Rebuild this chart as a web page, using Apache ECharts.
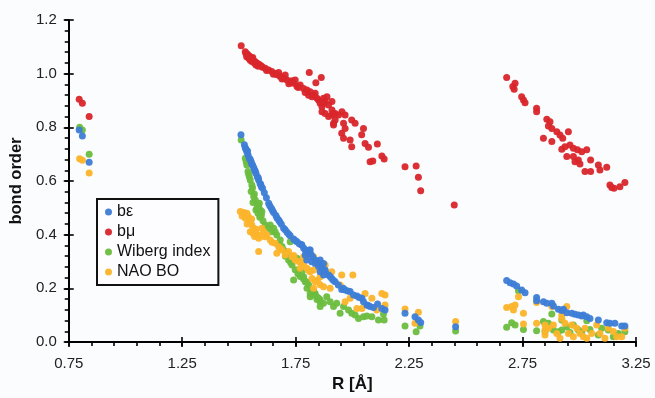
<!DOCTYPE html>
<html>
<head>
<meta charset="utf-8">
<script src="https://cdn.jsdelivr.net/npm/echarts@6/dist/echarts.min.js"></script>
<style>html,body{margin:0;padding:0;background:#fbfcfe;}#c{width:655px;height:398px;}</style>
</head>
<body>
<div id="c"></div>
<script>
const seriesNames = ['bε', 'bμ', 'Wiberg index', 'NAO BO'];
const xTicks = [0.75, 1.25, 1.75, 2.25, 2.75, 3.25];
const yTicks = [0.0, 0.2, 0.4, 0.6, 0.8, 1.0, 1.2];

const bEps = [
[0.796,0.79],[0.81,0.768],[0.84,0.67],
[1.509,0.772],[1.528,0.724],[1.535,0.709],[1.540,0.697],[1.546,0.685],[1.554,0.672],[1.560,0.660],[1.569,0.641],[1.575,0.629],[1.581,0.616],[1.587,0.604],[1.593,0.591],[1.599,0.579],[1.604,0.573],[1.621,0.538],[1.631,0.517],[1.643,0.498],[1.653,0.483],[1.663,0.471],[1.675,0.455],[1.687,0.439],[1.697,0.424],[1.712,0.409],[1.726,0.396],[1.741,0.384],[1.756,0.374],[1.775,0.362],[1.792,0.343],[1.807,0.331],[1.814,0.343],[1.825,0.318],[1.836,0.306],[1.851,0.293],[1.866,0.281],[1.858,0.262],[1.873,0.250],[1.531,0.718],[1.550,0.680],[1.565,0.650],
[1.524,0.735],[1.538,0.712],[1.556,0.664],[1.572,0.636],[1.585,0.612],[1.596,0.588],[1.612,0.556],[1.636,0.508],[1.648,0.490],[1.668,0.462],[1.680,0.448],[1.704,0.418],[1.720,0.402],[1.748,0.378],[1.766,0.366],[1.785,0.350],[1.800,0.338],[1.818,0.326],[1.843,0.300],[1.880,0.268],
[1.777,0.362],[1.792,0.324],[1.799,0.306],[1.811,0.343],[1.821,0.299],[1.836,0.293],[1.851,0.281],[1.865,0.275],[1.880,0.262],[1.895,0.250],[1.909,0.237],[1.924,0.225],[1.858,0.306],[1.873,0.293],[1.953,0.196],[1.968,0.194],[1.990,0.188],[2.005,0.175],[2.020,0.171],[2.042,0.163],[2.049,0.150],[2.064,0.138],[2.078,0.132],[2.093,0.129],[2.111,0.142],[2.130,0.125],[2.144,0.119],[2.232,0.107],[2.276,0.094],[2.291,0.082],[2.301,0.073],[2.455,0.057],
[1.902,0.244],[1.916,0.230],[1.938,0.212],[1.960,0.200],[1.980,0.190],[2.030,0.166],[2.070,0.136],
[2.680,0.229],[2.695,0.221],[2.710,0.216],[2.724,0.209],[2.746,0.194],[2.761,0.184],[2.812,0.166],[2.812,0.154],[2.842,0.150],[2.857,0.144],[2.879,0.144],[2.886,0.134],[2.908,0.122],[2.923,0.117],[2.945,0.109],[2.967,0.107],[2.981,0.103],[2.996,0.101],[3.011,0.097],[3.033,0.094],[3.047,0.088],[3.084,0.082],[3.121,0.072],[3.135,0.070],[3.157,0.070],[3.187,0.060],[3.201,0.060],[2.930,0.122],[3.018,0.101]
];

const bMu = [
[0.796,0.905],[0.81,0.89],[0.84,0.84],
[1.510,1.104],[1.528,1.082],[1.537,1.073],[1.546,1.066],[1.554,1.058],[1.563,1.051],[1.572,1.044],[1.581,1.039],[1.590,1.034],[1.599,1.029],[1.543,1.057],[1.557,1.045],[1.575,1.032],[1.534,1.063],[1.616,1.020],[1.631,1.014],[1.645,1.008],[1.660,1.001],[1.675,1.004],[1.682,0.989],[1.697,0.983],[1.712,0.976],[1.726,0.970],[1.741,0.964],[1.704,0.995],[1.748,0.976],[1.756,0.952],[1.770,0.958],[1.785,0.945],[1.800,0.939],[1.814,0.933],[1.807,0.920],[1.822,0.914],[1.836,0.927],[1.844,0.908],[1.851,0.902],[1.858,0.890],[1.866,0.877],[1.873,0.908],[1.880,0.896],[1.888,0.914],[1.895,0.883],[1.910,0.896],[1.910,0.865],[1.866,0.858],[1.880,0.852],[1.895,0.840],[1.917,0.852],[1.924,0.827],[1.939,0.846],[1.954,0.858],[1.917,0.809],[1.810,1.004],[1.863,0.986],[1.839,0.966],
[1.531,1.075],[1.540,1.068],[1.550,1.050],[1.561,1.060],[1.568,1.040],[1.585,1.028],[1.604,1.024],[1.622,1.012],[1.652,0.998],[1.668,0.996],[1.690,0.980],[1.720,0.962],[1.734,0.974],[1.762,0.948],[1.792,0.930],[1.829,0.920],
[1.968,0.846],[1.997,0.827],[2.012,0.815],[1.961,0.815],[1.968,0.796],[1.953,0.778],[1.961,0.759],[1.990,0.753],[1.997,0.728],[2.049,0.796],[2.041,0.772],[2.056,0.740],[2.071,0.726],[2.110,0.738],[2.078,0.672],[2.090,0.675],[2.130,0.693],[2.140,0.682],[2.232,0.653],[2.281,0.656],[2.291,0.614],[2.301,0.564],[2.449,0.511],[1.917,0.815],[1.909,0.846],[1.873,0.890],[1.924,0.852],
[2.680,0.986],[2.707,0.952],[2.717,0.964],[2.713,0.942],[2.746,0.914],[2.754,0.902],[2.761,0.892],[2.812,0.871],[2.812,0.858],[2.857,0.830],[2.871,0.821],[2.864,0.805],[2.879,0.796],[2.901,0.784],[2.915,0.771],[2.927,0.759],[2.952,0.784],[2.842,0.759],[2.879,0.747],[2.923,0.718],[2.937,0.728],[2.959,0.734],[2.974,0.722],[2.992,0.716],[3.011,0.709],[3.033,0.716],[2.945,0.691],[2.974,0.691],[2.996,0.678],[3.003,0.663],[2.981,0.672],[3.025,0.635],[3.050,0.635],[3.050,0.678],[3.084,0.660],[3.121,0.651],[3.091,0.641],[3.135,0.585],[3.153,0.573],[3.143,0.576],[3.179,0.579],[3.201,0.594]
];

const wiberg = [
[0.798,0.80],[0.81,0.79],[0.84,0.70],
[1.510,0.753],[1.528,0.685],[1.535,0.660],[1.540,0.635],[1.546,0.616],[1.550,0.604],[1.557,0.585],[1.554,0.561],[1.565,0.542],[1.572,0.529],[1.579,0.517],[1.587,0.504],[1.594,0.492],[1.584,0.480],[1.599,0.473],[1.575,0.492],[1.590,0.517],[1.601,0.486],[1.616,0.436],[1.638,0.436],[1.653,0.424],[1.645,0.411],[1.667,0.399],[1.682,0.380],[1.675,0.362],[1.697,0.343],[1.712,0.331],[1.719,0.306],[1.734,0.287],[1.748,0.269],[1.741,0.231],[1.770,0.244],[1.792,0.225],[1.807,0.213],[1.822,0.194],[1.836,0.181],[1.814,0.169],[1.851,0.163],[1.858,0.150],[1.778,0.262],[1.756,0.312],[1.726,0.374],
[1.532,0.672],[1.543,0.625],[1.560,0.575],[1.568,0.552],[1.562,0.520],[1.580,0.500],[1.592,0.465],[1.606,0.452],[1.628,0.424],[1.660,0.410],[1.690,0.356],[1.705,0.320],[1.728,0.296],[1.760,0.254],[1.784,0.236],[1.800,0.200],[1.828,0.176],[1.844,0.158],
[1.785,0.243],[1.799,0.225],[1.814,0.181],[1.829,0.188],[1.843,0.169],[1.858,0.157],[1.873,0.144],[1.887,0.169],[1.902,0.150],[1.917,0.132],[1.931,0.144],[1.961,0.132],[1.983,0.119],[1.997,0.107],[2.012,0.101],[2.027,0.088],[2.049,0.094],[2.064,0.097],[2.086,0.094],[2.115,0.082],[2.137,0.104],[2.140,0.082],[2.232,0.060],[2.281,0.038],[2.298,0.060],[1.946,0.107],[1.858,0.132],[2.455,0.041],
[2.732,0.191],[2.879,0.104],[3.033,0.079],[2.680,0.055],[2.702,0.072],[2.717,0.063],[2.754,0.047],[2.812,0.042],[2.842,0.076],[2.864,0.070],[2.849,0.038],[2.886,0.045],[2.908,0.038],[2.923,0.045],[2.945,0.057],[2.959,0.035],[2.974,0.063],[2.996,0.045],[3.011,0.038],[3.047,0.047],[3.084,0.026],[3.099,0.051],[3.128,0.045],[3.150,0.020],[3.172,0.032],[3.201,0.038],[2.923,0.082]
];

const naoBO = [
[0.798,0.683],[0.81,0.677],[0.84,0.63],
[1.506,0.486],[1.521,0.483],[1.535,0.480],[1.543,0.461],[1.550,0.449],[1.528,0.461],[1.557,0.436],[1.565,0.424],[1.572,0.411],[1.579,0.399],[1.587,0.387],[1.550,0.411],[1.569,0.393],[1.601,0.424],[1.609,0.411],[1.623,0.399],[1.638,0.380],[1.660,0.368],[1.675,0.355],[1.690,0.343],[1.587,0.337],[1.667,0.331],[1.704,0.324],[1.719,0.337],[1.734,0.318],[1.748,0.306],[1.763,0.300],[1.785,0.287],[1.800,0.275],[1.814,0.262],[1.792,0.318],[1.822,0.237],[1.836,0.225],[1.858,0.213],[1.873,0.206],[1.770,0.275],[1.829,0.200],
[1.514,0.470],[1.540,0.470],[1.556,0.458],[1.536,0.440],[1.562,0.405],[1.576,0.420],[1.594,0.398],[1.614,0.392],[1.646,0.372],[1.682,0.348],[1.742,0.322],[1.774,0.296],[1.808,0.266],[1.846,0.230],
[1.785,0.318],[1.807,0.330],[1.880,0.287],[1.909,0.262],[1.953,0.250],[2.002,0.250],[1.946,0.212],[1.902,0.200],[1.968,0.150],[1.990,0.163],[2.020,0.125],[2.042,0.125],[2.056,0.181],[2.086,0.163],[2.130,0.181],[2.144,0.175],[2.144,0.138],[2.107,0.119],[2.232,0.123],[2.291,0.111],[2.276,0.070],[1.829,0.268],[1.858,0.243],[1.829,0.318],[2.455,0.076],
[2.680,0.129],[2.702,0.132],[2.717,0.138],[2.710,0.119],[2.732,0.169],[2.754,0.107],[2.754,0.067],[2.812,0.147],[2.812,0.070],[2.849,0.063],[2.864,0.051],[2.849,0.026],[2.879,0.132],[2.886,0.063],[2.901,0.032],[2.915,0.014],[2.923,0.088],[2.937,0.070],[2.945,0.132],[2.952,0.032],[2.967,0.063],[2.974,0.020],[2.989,0.051],[3.003,0.032],[3.018,0.020],[3.033,0.014],[3.025,0.051],[3.055,0.032],[3.077,0.063],[3.091,0.032],[3.113,0.014],[3.128,0.051],[3.150,0.039],[3.165,0.020],[3.187,0.020],[3.201,0.051],[2.923,0.101],[2.849,0.045]
];

const colors = {'bε':'#3d7dd6','bμ':'#d9262b','Wiberg index':'#6cbd3f','NAO BO':'#fcb42a'};
const dataMap = {'bε':bEps,'bμ':bMu,'Wiberg index':wiberg,'NAO BO':naoBO};
const font = 'Liberation Sans, Arial, sans-serif';

const chart = echarts.init(document.getElementById('c'), null, {renderer:'canvas'});
const drawOrder = ['bμ','Wiberg index','NAO BO','bε'];
const tickStyle = {color: '#000', width: 1.6};
const xMin = xTicks[0], xMax = xTicks[xTicks.length-1];
const yMin = yTicks[0], yMax = yTicks[yTicks.length-1];
function tickOnlyAxis(min, max, interval, position, inside, len) {
  return {
    type: 'value', min: min, max: max, interval: interval, position: position,
    axisLine: {show: false}, axisLabel: {show: false}, splitLine: {show: false},
    axisTick: {show: true, inside: inside, length: len, lineStyle: tickStyle}
  };
}
const option = {
  backgroundColor: '#fbfcfe',
  animation: false,
  grid: {left: 68, right: 19, top: 20, bottom: 56, containLabel: false},
  legend: {
    data: seriesNames,
    orient: 'vertical',
    left: 97, top: 199,
    padding: [5, 8, 5, 8],
    itemGap: 4,
    itemWidth: 7, itemHeight: 7,
    icon: 'circle',
    borderColor: '#111', borderWidth: 2,
    backgroundColor: '#fdfdff',
    textStyle: {fontFamily: font, fontSize: 16, color: '#111'}
  },
  xAxis: [{
    type: 'value', min: xMin, max: xMax, interval: 0.5,
    name: 'R [Å]', nameLocation: 'middle', nameGap: 34,
    nameTextStyle: {fontFamily: font, fontSize: 17, fontWeight: 'bold', color: '#111'},
    axisLine: {show: true, lineStyle: {color: '#000', width: 2}},
    axisTick: {show: true, length: 5, lineStyle: tickStyle},
    axisLabel: {fontFamily: font, fontSize: 15, color: '#222', margin: 14, formatter: v => v.toFixed(2)},
    splitLine: {show: false}
  },
  tickOnlyAxis(xMin, xMax, 0.5, 'bottom', true, 5),
  tickOnlyAxis(xMin, xMax, 0.1, 'bottom', false, 4)
  ],
  yAxis: [{
    type: 'value', min: yMin, max: yMax, interval: 0.2,
    name: 'bond order', nameLocation: 'middle', nameGap: 38, nameRotate: 90,
    nameTextStyle: {fontFamily: font, fontSize: 16.5, fontWeight: 'bold', color: '#111'},
    axisLine: {show: true, lineStyle: {color: '#000', width: 2}},
    axisTick: {show: true, length: 5, lineStyle: tickStyle},
    axisLabel: {fontFamily: font, fontSize: 15, color: '#222', margin: 12, formatter: v => v.toFixed(1)},
    splitLine: {show: false}
  },
  tickOnlyAxis(yMin, yMax, 0.2, 'left', true, 5),
  tickOnlyAxis(yMin, yMax, 0.04, 'left', false, 4)
  ],
  series: drawOrder.map(n => ({
    name: n, type: 'scatter', xAxisIndex: 0, yAxisIndex: 0,
    symbol: 'circle', symbolSize: 7,
    itemStyle: {color: colors[n], opacity: 0.95},
    data: dataMap[n]
  }))
};
chart.setOption(option);
</script>
</body>
</html>
